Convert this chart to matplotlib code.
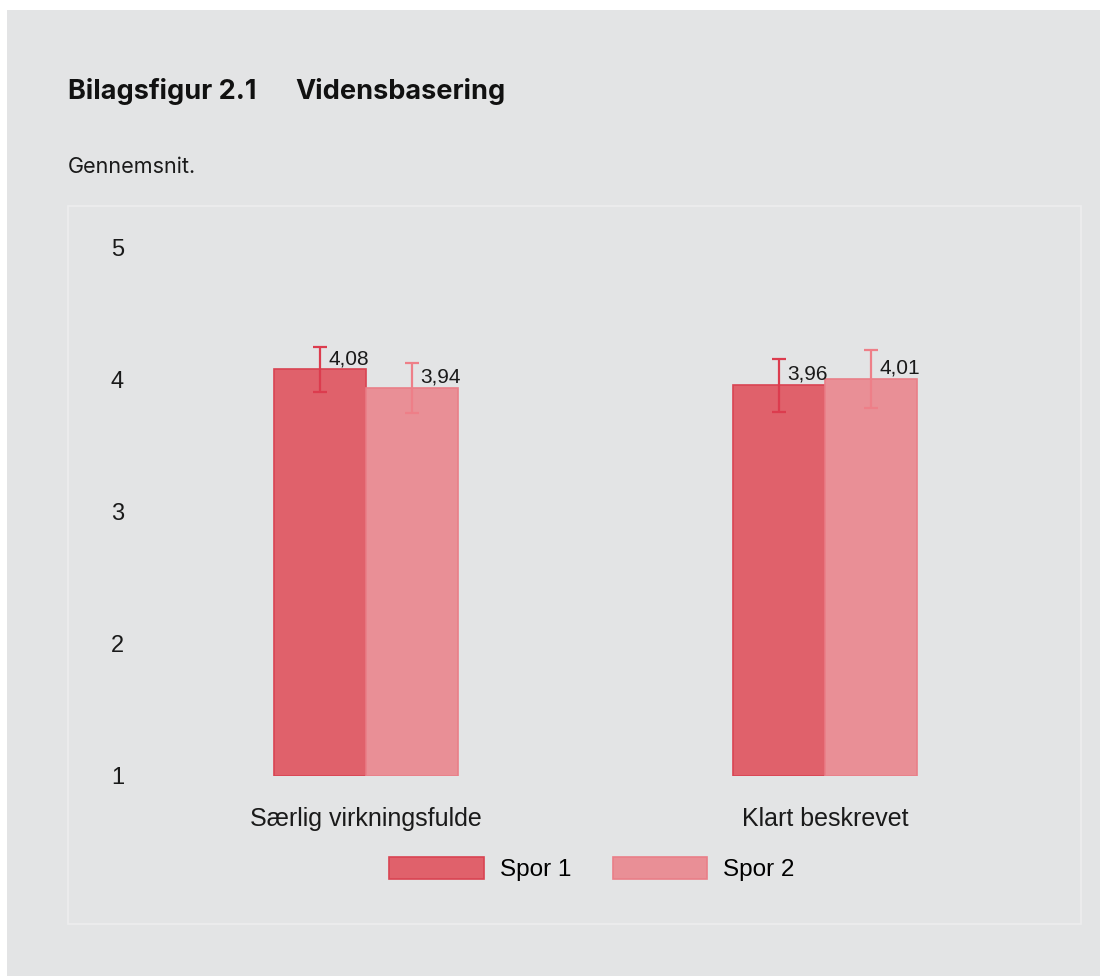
import numpy as np
import matplotlib.pyplot as plt
from matplotlib.patches import Rectangle

# Data
categories = ["Særlig virkningsfulde", "Klart beskrevet"]
series = ["Spor 1", "Spor 2"]
spor1 = [4.08, 3.96]
spor2 = [3.94, 4.01]
err1 = [0.17, 0.20]
err2 = [0.19, 0.22]
yticks = [1, 2, 3, 4, 5]

W, H = 1100, 976
fig = plt.figure(figsize=(W / 100, H / 100), dpi=100, facecolor="white")

# gray panel + inner frame
bg = "#e3e4e5"
fig.patches.append(Rectangle((7 / W, 0), 1 - 7 / W, 1 - 10 / H, transform=fig.transFigure,
                             facecolor=bg, edgecolor="none", zorder=-2))
fig.patches.append(Rectangle((68 / W, 1 - 924 / H), (1081 - 68) / W, (924 - 206) / H,
                             transform=fig.transFigure, facecolor="none",
                             edgecolor="#ededee", linewidth=1.2, zorder=-1))

fig.text(68 / W, 1 - 91 / H, "Bilagsfigur 2.1", family="Inter", weight="bold",
         fontsize=19.5, color="#111111", va="center", ha="left")
fig.text(295 / W, 1 - 91 / H, "Vidensbasering", family="Inter", weight="bold",
         fontsize=19.5, color="#111111", va="center", ha="left")
fig.text(68 / W, 1 - 167 / H, "Gennemsnit.", family="Inter", fontsize=15.5,
         color="#1a1a1a", va="center", ha="left")

ax = fig.add_axes([136.5 / W, 200 / H, 918 / W, 528 / H], zorder=2)
ax.patch.set_alpha(0)

x = np.arange(len(categories))
w = 0.2
fills = ["#e0616b", "#e98f96"]
edges = ["#d94452", "#ea7f88"]
ecols = ["#dc3c4e", "#ee7f88"]

for i, (vals, errs) in enumerate([(spor1, err1), (spor2, err2)]):
    xs = x - w / 2 + i * w
    heights = np.array(vals) - 1
    ax.bar(xs, heights, width=w, bottom=1, color=fills[i], edgecolor=edges[i],
           linewidth=1.2, label=series[i], zorder=2)
    ax.errorbar(xs, vals, yerr=errs, fmt="none", ecolor=ecols[i], elinewidth=1.6,
                capsize=4.8, capthick=1.6, zorder=3)
    for xi, v in zip(xs, vals):
        ax.annotate(f"{v:.2f}".replace(".", ","), (xi, v), xytext=(6, 1),
                    textcoords="offset points", ha="left", va="bottom",
                    fontsize=15, family="Liberation Sans", color="#1a1a1a", zorder=4)

ax.set_xlim(-0.5, 1.5)
ax.set_ylim(1, 5)
ax.set_yticks(yticks)
ax.set_yticklabels([str(t) for t in yticks], family="Liberation Sans", fontsize=17)
ax.set_xticks(x)
ax.set_xticklabels(categories, family="Liberation Sans", fontsize=18)
ax.tick_params(axis="both", length=0, colors="#1a1a1a")
ax.tick_params(axis="x", pad=22)
ax.tick_params(axis="y", pad=9)
for s in ax.spines.values():
    s.set_visible(False)

leg = fig.legend(loc="center", bbox_to_anchor=(592 / W, 1 - 869 / H), ncol=2,
                 frameon=False, prop={"family": "Liberation Sans", "size": 17.5},
                 handlelength=3.9, handleheight=1.0, handletextpad=0.65,
                 columnspacing=1.7)

fig.savefig("out.png", dpi=100, facecolor="white")
